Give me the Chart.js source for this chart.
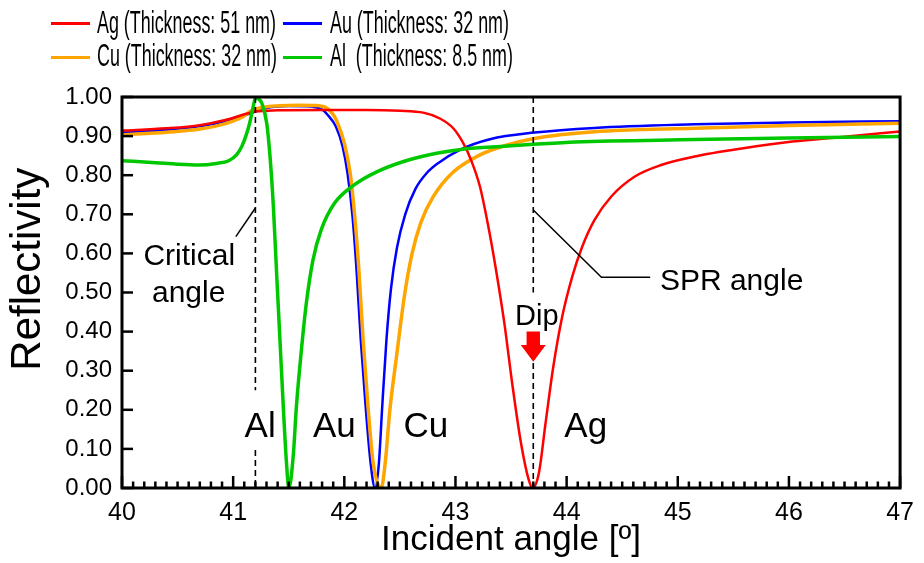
<!DOCTYPE html>
<html><head><meta charset="utf-8">
<script src="https://cdn.jsdelivr.net/npm/chart.js@4.4.1/dist/chart.umd.min.js"></script>
<style>
html,body{margin:0;padding:0;background:#fff;}
#wrap{position:relative;width:924px;height:563px;overflow:hidden;}
canvas{position:absolute;left:0;top:0;}
.sw{position:absolute;height:3px;width:39px;}
.lt{position:absolute;font-family:Arial,'Liberation Sans',sans-serif;font-size:31px;line-height:1;white-space:pre;transform:scaleX(0.577);transform-origin:0 0;color:#000;}
</style></head><body>
<div id="wrap"><canvas id="c" width="924" height="563"></canvas><div id="legend"></div></div>
<script>
// ---------- data ----------
const seriesLabels = ['Ag (Thickness: 51 nm)', 'Au (Thickness: 32 nm)', 'Cu (Thickness: 32 nm)', 'Al  (Thickness: 8.5 nm)'];
const seriesColors = ['#ff0000', '#0000ff', '#ffa500', '#00c800'];

const agAngle = [40, 40.4, 40.7, 40.93, 41.08, 41.2, 41.4, 41.8, 42.2, 42.5, 42.71, 42.86, 42.98, 43.07, 43.14, 43.22, 43.29, 43.36, 43.44, 43.51, 43.59, 43.66, 43.693, 43.75, 43.81, 43.88, 43.96, 44.05, 44.14, 44.25, 44.4, 44.61, 44.85, 45.14, 45.59, 46.03, 46.48, 47];
const agR     = [0.914, 0.920, 0.928, 0.941, 0.954, 0.963, 0.966, 0.967, 0.967, 0.965, 0.960, 0.945, 0.920, 0.882, 0.839, 0.771, 0.677, 0.566, 0.421, 0.268, 0.114, 0.020, 0.0, 0.038, 0.165, 0.310, 0.438, 0.540, 0.617, 0.685, 0.745, 0.796, 0.826, 0.847, 0.869, 0.886, 0.898, 0.912];

const auAngle = [40, 40.4, 40.7, 40.93, 41.08, 41.2, 41.3, 41.5, 41.7, 41.8, 41.851, 41.925, 41.985, 42.029, 42.074, 42.112, 42.148, 42.192, 42.237, 42.276, 42.311, 42.341, 42.379, 42.42, 42.474, 42.548, 42.64, 42.74, 42.85, 43.04, 43.31, 43.71, 44.25, 45.15, 46, 47];
const auR     = [0.909, 0.916, 0.925, 0.938, 0.951, 0.963, 0.972, 0.977, 0.976, 0.968, 0.954, 0.924, 0.873, 0.805, 0.694, 0.549, 0.379, 0.208, 0.063, 0.0, 0.063, 0.208, 0.379, 0.51, 0.615, 0.700, 0.765, 0.805, 0.832, 0.865, 0.892, 0.909, 0.921, 0.930, 0.935, 0.938];

const cuAngle = [40, 40.4, 40.7, 40.93, 41.08, 41.17, 41.3, 41.58, 41.75, 41.85, 41.9, 41.94, 42.0, 42.053, 42.094, 42.133, 42.169, 42.213, 42.26, 42.332, 42.37, 42.41, 42.47, 42.54, 42.61, 42.69, 42.8, 42.98, 43.22, 43.45, 43.71, 44.25, 45.15, 46, 47];
const cuR     = [0.903, 0.910, 0.918, 0.932, 0.948, 0.966, 0.975, 0.979, 0.978, 0.970, 0.955, 0.933, 0.882, 0.805, 0.694, 0.549, 0.379, 0.208, 0.063, 0.0, 0.07, 0.2, 0.337, 0.49, 0.60, 0.68, 0.745, 0.808, 0.852, 0.876, 0.894, 0.911, 0.920, 0.927, 0.933];

const alAngle = [40, 40.3, 40.5, 40.69, 40.85, 40.96, 41.03, 41.08, 41.12, 41.15, 41.18, 41.199, 41.23, 41.258, 41.302, 41.332, 41.362, 41.391, 41.421, 41.451, 41.48, 41.501, 41.54, 41.569, 41.614, 41.658, 41.718, 41.792, 41.911, 42.089, 42.296, 42.534, 42.83, 43.05, 43.37, 43.7, 44.08, 45.15, 46, 47];
const alR     = [0.837, 0.832, 0.828, 0.826, 0.830, 0.837, 0.852, 0.875, 0.905, 0.935, 0.975, 0.997, 0.995, 0.984, 0.933, 0.847, 0.719, 0.549, 0.379, 0.208, 0.063, 0.0, 0.080, 0.208, 0.353, 0.472, 0.583, 0.660, 0.728, 0.775, 0.809, 0.835, 0.856, 0.866, 0.873, 0.879, 0.885, 0.891, 0.895, 0.899];

const xTickLabels = ['40', '41', '42', '43', '44', '45', '46', '47'];
const yTickLabels = ['0.00', '0.10', '0.20', '0.30', '0.40', '0.50', '0.60', '0.70', '0.80', '0.90', '1.00'];
const xTitle = 'Incident angle [º]';
const yTitle = '    Reflectivity';

const criticalAngle = 41.2;
const sprAngle = 43.7;
</script>
<script>
const FONT = "Arial, 'Liberation Sans', sans-serif";
function pts(a, r) { return a.map((v, i) => ({x: v, y: r[i]})); }

// annotation layout (data coordinates)
const anno = {
  dashed: [
    {x: criticalAngle, y1: 1.0, y2: 0.25}, {x: criticalAngle, y1: 0.097, y2: 0},
    {x: sprAngle, y1: 1.0, y2: 0.50}, {x: sprAngle, y1: 0.32, y2: 0}
  ],
  leaders: [
    [[criticalAngle, 0.716], [41.024, 0.643]],
    [[sprAngle, 0.711], [44.313, 0.539], [44.752, 0.539]]
  ],
  texts: [
    {t: 'Critical', x: 40.605, y: 0.570, size: 30, align: 'center'},
    {t: 'angle', x: 40.60, y: 0.476, size: 30, align: 'center'},
    {t: 'SPR angle', x: 44.839, y: 0.506, size: 30, align: 'left'},
    {t: 'Dip', x: 43.732, y: 0.417, size: 29, align: 'center'},
    {t: 'Al', x: 41.243, y: 0.131, size: 35, align: 'center'},
    {t: 'Au', x: 41.911, y: 0.131, size: 35, align: 'center'},
    {t: 'Cu', x: 42.734, y: 0.131, size: 35, align: 'center'},
    {t: 'Ag', x: 44.172, y: 0.131, size: 35, align: 'center'}
  ],
  arrow: {x: sprAngle, top: 0.40, neck: 0.366, tip: 0.323, shaftHalf: 6.7, headHalf: 12.5}
};

const annoPlugin = {
  id: 'anno',
  afterDatasetsDraw(chart) {
    const ctx = chart.ctx, xs = chart.scales.x, ys = chart.scales.y, ca = chart.chartArea;
    const X = v => xs.getPixelForValue(v), Y = v => ys.getPixelForValue(v);
    ctx.save();
    ctx.strokeStyle = '#000'; ctx.lineWidth = 1.6; ctx.setLineDash([6, 4]);
    anno.dashed.forEach(d => { ctx.beginPath(); ctx.moveTo(X(d.x), Y(d.y1)); ctx.lineTo(X(d.x), Y(d.y2)); ctx.stroke(); });
    ctx.setLineDash([]);
    ctx.lineWidth = 1.5;
    anno.leaders.forEach(l => { ctx.beginPath(); l.forEach((p, i) => i ? ctx.lineTo(X(p[0]), Y(p[1])) : ctx.moveTo(X(p[0]), Y(p[1]))); ctx.stroke(); });
    const a = anno.arrow, ax = X(a.x);
    ctx.fillStyle = '#ff0000';
    ctx.beginPath();
    ctx.moveTo(ax - a.shaftHalf, Y(a.top)); ctx.lineTo(ax + a.shaftHalf, Y(a.top));
    ctx.lineTo(ax + a.shaftHalf, Y(a.neck)); ctx.lineTo(ax + a.headHalf, Y(a.neck));
    ctx.lineTo(ax, Y(a.tip)); ctx.lineTo(ax - a.headHalf, Y(a.neck));
    ctx.lineTo(ax - a.shaftHalf, Y(a.neck)); ctx.closePath(); ctx.fill();
    ctx.fillStyle = '#000'; ctx.textBaseline = 'alphabetic';
    anno.texts.forEach(t => { ctx.font = t.size + 'px ' + FONT; ctx.textAlign = t.align; ctx.fillText(t.t, X(t.x), Y(t.y)); });
    ctx.lineWidth = 3; ctx.strokeStyle = '#000';
    ctx.strokeRect(ca.left, ca.top, ca.right - ca.left, ca.bottom - ca.top);
    ctx.lineWidth = 2.5;
    const n = Math.round((xs.max - xs.min) * 10);
    for (let i = 0; i <= n; i++) {
      const px = X(xs.min + i / 10), len = (i % 10 === 0) ? 12 : 6.5;
      ctx.beginPath(); ctx.moveTo(px, ca.bottom); ctx.lineTo(px, ca.bottom - len); ctx.stroke();
    }
    ys.ticks.forEach(t => { const py = Y(t.value); ctx.beginPath(); ctx.moveTo(ca.left, py); ctx.lineTo(ca.left + 11, py); ctx.stroke(); });
    ctx.restore();
  }
};

const chart = new Chart(document.getElementById('c'), {
  type: 'line',
  data: {datasets: [
    {label: seriesLabels[0], data: pts(agAngle, agR), borderColor: seriesColors[0], borderWidth: 2.5, order: 1},
    {label: seriesLabels[1], data: pts(auAngle, auR), borderColor: seriesColors[1], borderWidth: 2.5, order: 3},
    {label: seriesLabels[2], data: pts(cuAngle, cuR), borderColor: seriesColors[2], borderWidth: 3.5, order: 2},
    {label: seriesLabels[3], data: pts(alAngle, alR), borderColor: seriesColors[3], borderWidth: 3.5, order: 0}
  ]},
  options: {
    responsive: false, animation: false, devicePixelRatio: 1,
    layout: {padding: {top: 97, right: 15.5, left: 0, bottom: 0}},
    elements: {point: {radius: 0}, line: {cubicInterpolationMode: 'monotone', fill: false}},
    plugins: {legend: {display: false}, tooltip: {enabled: false}},
    scales: {
      x: {
        type: 'linear', min: 40, max: 47,
        ticks: {stepSize: 1, padding: 10, color: '#000', font: {family: FONT, size: 25}, maxRotation: 0, autoSkip: false,
                callback: (v, i) => xTickLabels[i]},
        grid: {display: false, drawTicks: false}, border: {display: false},
        title: {display: true, text: xTitle, color: '#000', font: {family: FONT, size: 35}, padding: {top: 0, bottom: 2}},
        afterFit: s => { s.height = 75; }
      },
      y: {
        type: 'linear', min: 0, max: 1,
        ticks: {stepSize: 0.1, padding: 10, color: '#000', font: {family: FONT, size: 24}, autoSkip: false,
                callback: (v, i) => yTickLabels[i]},
        grid: {display: false, drawTicks: false}, border: {display: false},
        title: {display: true, text: yTitle, color: '#000', font: {family: FONT, size: 42}, padding: {top: 3, bottom: 0}},
        afterFit: s => { s.width = 122; }
      }
    }
  },
  plugins: [annoPlugin]
});

const legendPos = [
  {sx: 51, sy: 22, tx: 97, ty: 6.8},
  {sx: 283, sy: 22, tx: 330, ty: 6.8},
  {sx: 51, sy: 56, tx: 97, ty: 39.8},
  {sx: 283, sy: 56, tx: 330, ty: 39.8}
];
const lg = document.getElementById('legend');
seriesLabels.forEach((lab, i) => {
  const p = legendPos[i];
  const sw = document.createElement('div'); sw.className = 'sw';
  sw.style.left = p.sx + 'px'; sw.style.top = p.sy + 'px'; sw.style.background = seriesColors[i];
  const tx = document.createElement('div'); tx.className = 'lt';
  tx.style.left = p.tx + 'px'; tx.style.top = p.ty + 'px'; tx.textContent = lab;
  lg.appendChild(sw); lg.appendChild(tx);
});
</script>
</body></html>
